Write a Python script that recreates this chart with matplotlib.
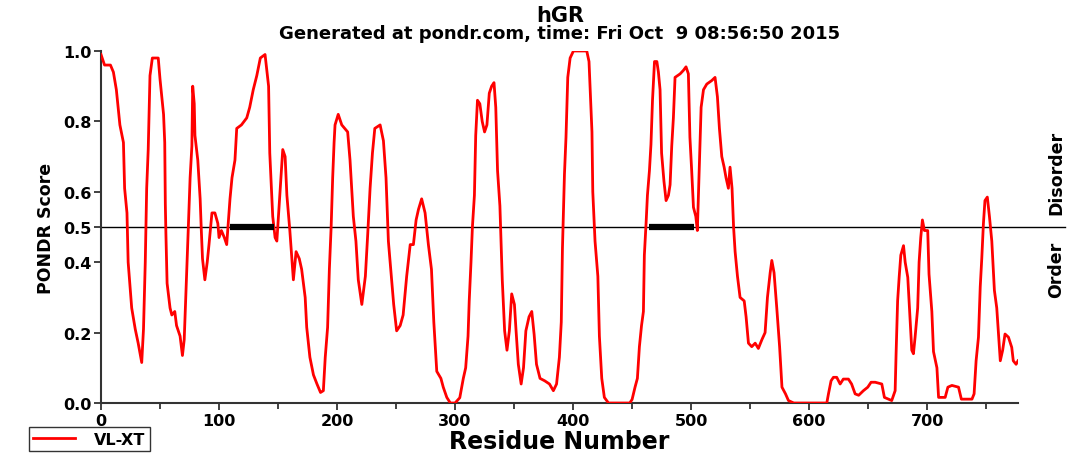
import numpy as np
import matplotlib
matplotlib.use("Agg")
import matplotlib.pyplot as plt
from matplotlib.lines import Line2D

# PONDR VL-XT profile for hGR
residues = [0, 3, 8, 10.5, 13, 16, 19, 20, 22, 23, 26, 29, 31.5, 34.5, 36, 37.5, 38.7, 40, 41.5, 43.5,
            48.5, 50, 53, 54, 54.5, 55, 56, 58.5, 60, 62.5, 64, 67, 69, 70.5, 72.5, 74, 75.5, 77, 77.7, 79,
            79.6, 82, 84, 85, 86, 88, 90, 91.5, 94, 96.5, 99, 100, 102, 104.5, 106.5, 108, 109.3, 111, 113.5, 115,
            119, 123.5, 126, 129, 132, 135, 139, 142, 143, 145.5, 147.5, 149, 151, 154, 156, 157.5, 160, 161.5, 163, 165.3,
            168, 170, 173, 174.3, 177, 180, 183, 186, 188.4, 190, 192, 193.5, 195, 196.3, 197.5, 198.3, 201, 204, 209, 211,
            213.8, 216, 218, 221, 224, 226, 228, 230, 232, 236.5, 239.3, 241.5, 243.5, 245.5, 248, 250.5, 253.5, 256, 259, 262,
            264.7, 267, 269, 271.7, 274.6, 277.4, 280, 282, 284.5, 288, 290, 293, 296, 300, 304, 307, 309, 311, 312, 313.5,
            314.7, 316.4, 317.5, 319, 321, 323, 325, 327, 329, 331, 333, 334.5, 336, 338, 340, 342, 344, 346, 348, 350.3,
            351.7, 353.6, 356, 358, 360, 362.7, 365, 367, 369, 372, 376, 380, 383.3, 386, 388.4, 390, 391, 392, 392.7, 394,
            395.5, 397.5, 400.3, 411.6, 413.5, 414.4, 416, 416.7, 418.6, 421, 422.3, 424.3, 426.5, 430, 448, 450, 452.5, 454.5,
            456.2, 458, 459.6, 460.4, 462, 463, 464.7, 466, 467.3, 469, 471, 472.3, 473.7, 475, 477, 478.8, 480.8, 482.2,
            483.6, 485, 486.4, 490.7, 493.5, 495.7, 497.7, 499, 500.5, 502, 504, 505.3, 507, 508.5, 510.5, 513.3, 517.5, 520.3,
            522.3, 524, 526, 528, 529.6, 531.6, 533, 534.7, 536, 537.3, 539.3, 541.5, 545, 546.6, 548.6, 551.4, 554.3, 557,
            560, 562.7, 564.7, 567, 568.4, 570.3, 572.6, 575, 577, 580, 582.5, 587, 615, 616.4, 618.6, 620.6, 623.4, 626.3,
            629, 633.3, 636, 639, 642, 646, 649.7, 652.5, 656, 661.6, 663.8, 670, 672.9, 673.7, 675, 676.3, 677.7, 680,
            681.4, 683.6, 685.6, 687, 688.4, 689.8, 692, 693.2, 694.6, 696, 697.7, 700.5, 701.6, 704, 705.4, 708.3, 709.7, 715.3,
            717.6, 721, 726.6, 729, 738, 739.8, 741.5, 743.5, 745, 746.3, 747.7, 749, 751, 752.8, 754.8, 757, 759, 760.5,
            762, 764, 766, 768.9, 771.7, 773, 775.4, 777]
scores = [0.99, 0.96, 0.96, 0.94, 0.89, 0.79, 0.74, 0.61, 0.54, 0.40, 0.27, 0.21, 0.17, 0.115, 0.21, 0.40, 0.61, 0.72, 0.93, 0.98,
          0.98, 0.92, 0.82, 0.74, 0.565, 0.48, 0.34, 0.27, 0.25, 0.26, 0.22, 0.19, 0.135, 0.18, 0.36, 0.50, 0.64, 0.73, 0.90, 0.85,
          0.76, 0.69, 0.58, 0.49, 0.41, 0.35, 0.40, 0.45, 0.54, 0.54, 0.51, 0.47, 0.49, 0.47, 0.45, 0.52, 0.58, 0.64, 0.69, 0.78,
          0.79, 0.81, 0.84, 0.89, 0.93, 0.98, 0.99, 0.90, 0.71, 0.53, 0.47, 0.46, 0.565, 0.72, 0.70, 0.59, 0.49, 0.42, 0.35, 0.43,
          0.41, 0.38, 0.30, 0.215, 0.13, 0.08, 0.054, 0.03, 0.035, 0.13, 0.215, 0.38, 0.50, 0.64, 0.74, 0.79, 0.82, 0.79, 0.77, 0.69,
          0.53, 0.46, 0.35, 0.28, 0.36, 0.48, 0.61, 0.71, 0.78, 0.79, 0.745, 0.64, 0.46, 0.38, 0.28, 0.205, 0.22, 0.25, 0.36, 0.45,
          0.45, 0.52, 0.55, 0.58, 0.54, 0.45, 0.38, 0.23, 0.09, 0.07, 0.045, 0.016, 0.0, 0.0, 0.015, 0.07, 0.10, 0.19, 0.29, 0.40,
          0.50, 0.59, 0.76, 0.86, 0.85, 0.80, 0.77, 0.79, 0.88, 0.90, 0.91, 0.84, 0.66, 0.56, 0.35, 0.205, 0.15, 0.205, 0.31, 0.28,
          0.205, 0.11, 0.054, 0.10, 0.205, 0.245, 0.26, 0.195, 0.11, 0.07, 0.063, 0.054, 0.035, 0.054, 0.13, 0.23, 0.44, 0.565, 0.65, 0.755,
          0.925, 0.98, 1.0, 1.0, 0.97, 0.90, 0.77, 0.60, 0.46, 0.36, 0.19, 0.07, 0.016, 0.0, 0.0, 0.01, 0.045, 0.07,
          0.16, 0.22, 0.26, 0.42, 0.52, 0.59, 0.66, 0.735, 0.86, 0.97, 0.97, 0.94, 0.89, 0.71, 0.63, 0.575, 0.59, 0.62,
          0.73, 0.81, 0.925, 0.935, 0.945, 0.955, 0.935, 0.755, 0.66, 0.556, 0.53, 0.49, 0.68, 0.84, 0.89, 0.906, 0.916, 0.925,
          0.87, 0.78, 0.70, 0.67, 0.64, 0.61, 0.67, 0.61, 0.50, 0.43, 0.36, 0.30, 0.29, 0.245, 0.17, 0.16, 0.17, 0.155,
          0.18, 0.20, 0.30, 0.37, 0.405, 0.37, 0.27, 0.16, 0.045, 0.026, 0.007, 0.0, 0.0, 0.026, 0.063, 0.073, 0.073, 0.054,
          0.068, 0.068, 0.054, 0.026, 0.022, 0.035, 0.045, 0.059, 0.059, 0.054, 0.016, 0.007, 0.035, 0.14, 0.29, 0.357, 0.42, 0.447,
          0.40, 0.357, 0.234, 0.15, 0.14, 0.187, 0.27, 0.40, 0.47, 0.52, 0.49, 0.49, 0.366, 0.26, 0.146, 0.10, 0.016, 0.016,
          0.045, 0.05, 0.045, 0.011, 0.011, 0.026, 0.12, 0.187, 0.33, 0.41, 0.51, 0.575, 0.585, 0.53, 0.46, 0.32, 0.27, 0.196,
          0.12, 0.15, 0.196, 0.187, 0.158, 0.12, 0.11, 0.12]

# disordered regions marked with black bars on the 0.5 line
region_start = [109, 464.5]
region_end = [147, 502.5]

y_ticks = [0.0, 0.2, 0.4, 0.5, 0.6, 0.8, 1.0]
x_ticks = [0, 100, 200, 300, 400, 500, 600, 700]
n_res = 777

fig = plt.figure(figsize=(10.7, 4.6), dpi=100)
ax = fig.add_axes([0.0944, 0.1217, 0.857, 0.7653])

ax.plot(residues, scores, color="red", lw=2.0, zorder=3)
ax.plot([0, 817], [0.5, 0.5], color="black", lw=1.0, clip_on=False, zorder=2)
for s, e in zip(region_start, region_end):
    ax.plot([s, e], [0.5, 0.5], color="black", lw=4.5, solid_capstyle="butt", zorder=4)

ax.set_xlim(0, n_res)
ax.set_ylim(0, 1.0)
ax.spines["top"].set_visible(False)
ax.spines["right"].set_visible(False)
for sp in ["left", "bottom"]:
    ax.spines[sp].set_linewidth(1.5)
    ax.spines[sp].set_color("#333333")

ax.set_xticks(x_ticks)
ax.set_xticks(np.arange(50, n_res, 100), minor=True)
ax.set_yticks(y_ticks)
ax.set_yticklabels(["%.1f" % t for t in y_ticks])
ax.tick_params(axis="both", which="major", direction="out", length=5, width=1.3, pad=2,
               labelsize=11.5, colors="#333333", labelcolor="black")
ax.tick_params(axis="x", which="minor", direction="out", length=4, width=1.3, colors="#333333")
for lab in ax.get_xticklabels() + ax.get_yticklabels():
    lab.set_fontweight("bold")

ax.set_xlabel("Residue Number", fontsize=17, fontweight="bold", labelpad=1)
ax.set_ylabel("PONDR Score", fontsize=12.5, fontweight="bold", labelpad=6)

fig.text(0.5234, 0.965, "hGR", ha="center", va="center", fontsize=15, fontweight="bold")
fig.text(0.5234, 0.926, "Generated at pondr.com, time: Fri Oct  9 08:56:50 2015",
         ha="center", va="center", fontsize=13, fontweight="bold")

fig.text(0.987, 0.625, "Disorder", rotation=90, ha="center", va="center", fontsize=12.5, fontweight="bold")
fig.text(0.987, 0.413, "Order", rotation=90, ha="center", va="center", fontsize=12.5, fontweight="bold")

handle = Line2D([], [], color="red", lw=2.0)
leg = fig.legend([handle], ["VL-XT"], loc="lower left", bbox_to_anchor=(0.027, 0.017),
                 frameon=True, fancybox=False, edgecolor="black", handlelength=2.6,
                 borderpad=0.28, borderaxespad=0, handletextpad=1.2,
                 prop={"weight": "bold", "size": 11.5})
leg.get_frame().set_linewidth(1.0)

fig.savefig("out.png", dpi=100)
